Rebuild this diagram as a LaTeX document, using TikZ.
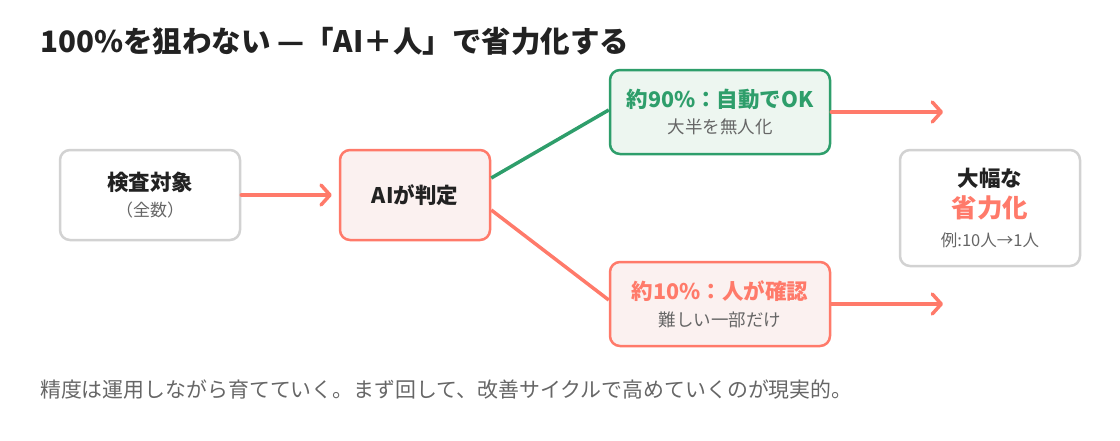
\documentclass[tikz,border=0pt]{standalone}
\usepackage{fontspec}
\setmainfont{Noto Sans CJK JP}
\usepackage{tikz}
\usetikzlibrary{positioning,arrows.meta,calc}
\definecolor{coral}{HTML}{FF7A6A}
\definecolor{okgreen}{HTML}{2E9E6B}
\definecolor{pinkfill}{HTML}{FBF1F0}
\definecolor{greenfill}{HTML}{EDF6F0}
\definecolor{graybd}{HTML}{D2D2D2}
\definecolor{ink}{HTML}{222222}
\definecolor{subgray}{HTML}{666666}

\begin{document}
\begin{tikzpicture}[
  x=1pt, y=-1pt,
  every node/.style={inner sep=0pt, text=ink},
  plainbox/.style={draw=graybd, line width=2.5pt, rounded corners=10pt, fill=white, align=center},
  aibox/.style={draw=coral, line width=2.5pt, rounded corners=10pt, fill=pinkfill, align=center},
  okbox/.style={draw=okgreen, line width=2.5pt, rounded corners=10pt, fill=greenfill, align=center},
  flow/.style={draw=coral, line width=3.5pt, line cap=round, -{Straight Barb[length=9pt,width=20pt,line cap=round,line join=round]}},
  branch/.style={line width=3.5pt},
  headtext/.style={font=\fontsize{21.5}{25}\selectfont\bfseries}
]
  \useasboundingbox (0,0) rectangle (1120,440);
  \node[anchor=base west, font=\fontsize{29.5}{33}\selectfont\bfseries] (title) at (40,52)
    {100\%を狙わない —「AI＋人」で省力化する};

  % boxes
  \node[plainbox, minimum width=180pt, minimum height=90pt] (target) at (150,195)
    {{\fontsize{21.5}{25}\selectfont\bfseries 検査対象}\\[9pt]{\fontsize{17}{20}\selectfont\color{subgray}（全数）}};
  \node[aibox, minimum width=150pt, minimum height=90pt, headtext] (judge) at (415,195) {AIが判定};
  \node[okbox, minimum width=220pt, minimum height=84pt] (auto) at (720,112)
    {{\fontsize{21.5}{25}\selectfont\bfseries\color{okgreen}約90\%：自動でOK}\\[9pt]{\fontsize{17.5}{20}\selectfont\color{subgray}大半を無人化}};
  \node[aibox, minimum width=220pt, minimum height=84pt] (human) at (720,304)
    {{\fontsize{21.5}{25}\selectfont\bfseries\color{coral}約10\%：人が確認}\\[9pt]{\fontsize{17.5}{20}\selectfont\color{subgray}難しい一部だけ}};
  \node[plainbox, minimum width=180pt, minimum height=116pt] (gain) at (990,208)
    {{\fontsize{21.5}{25}\selectfont\bfseries 大幅な}\\[6pt]{\fontsize{25.5}{29}\selectfont\bfseries\color{coral}省力化}\\[11pt]{\fontsize{16.5}{19}\selectfont\color{subgray}例:10人→1人}};

  \coordinate (autoout) at (943,112);
  \coordinate (humanout) at (943,304);

  % connectors
  \draw[flow] (target.east) -- ([xshift=-7pt]judge.west);
  \draw[branch, okgreen] ([yshift=17pt]judge.east) -- ([yshift=2pt]auto.west);
  \draw[branch, coral] ([yshift=-15pt]judge.east) -- ([yshift=4pt]human.west);
  \draw[flow] (auto.east) -- (autoout);
  \draw[flow] (human.east) -- (humanout);

  \node[anchor=base west, font=\fontsize{20.9}{24}\selectfont, text=subgray] (note) at (40,397)
    {精度は運用しながら育てていく。まず回して、改善サイクルで高めていくのが現実的。};
\end{tikzpicture}
\end{document}
